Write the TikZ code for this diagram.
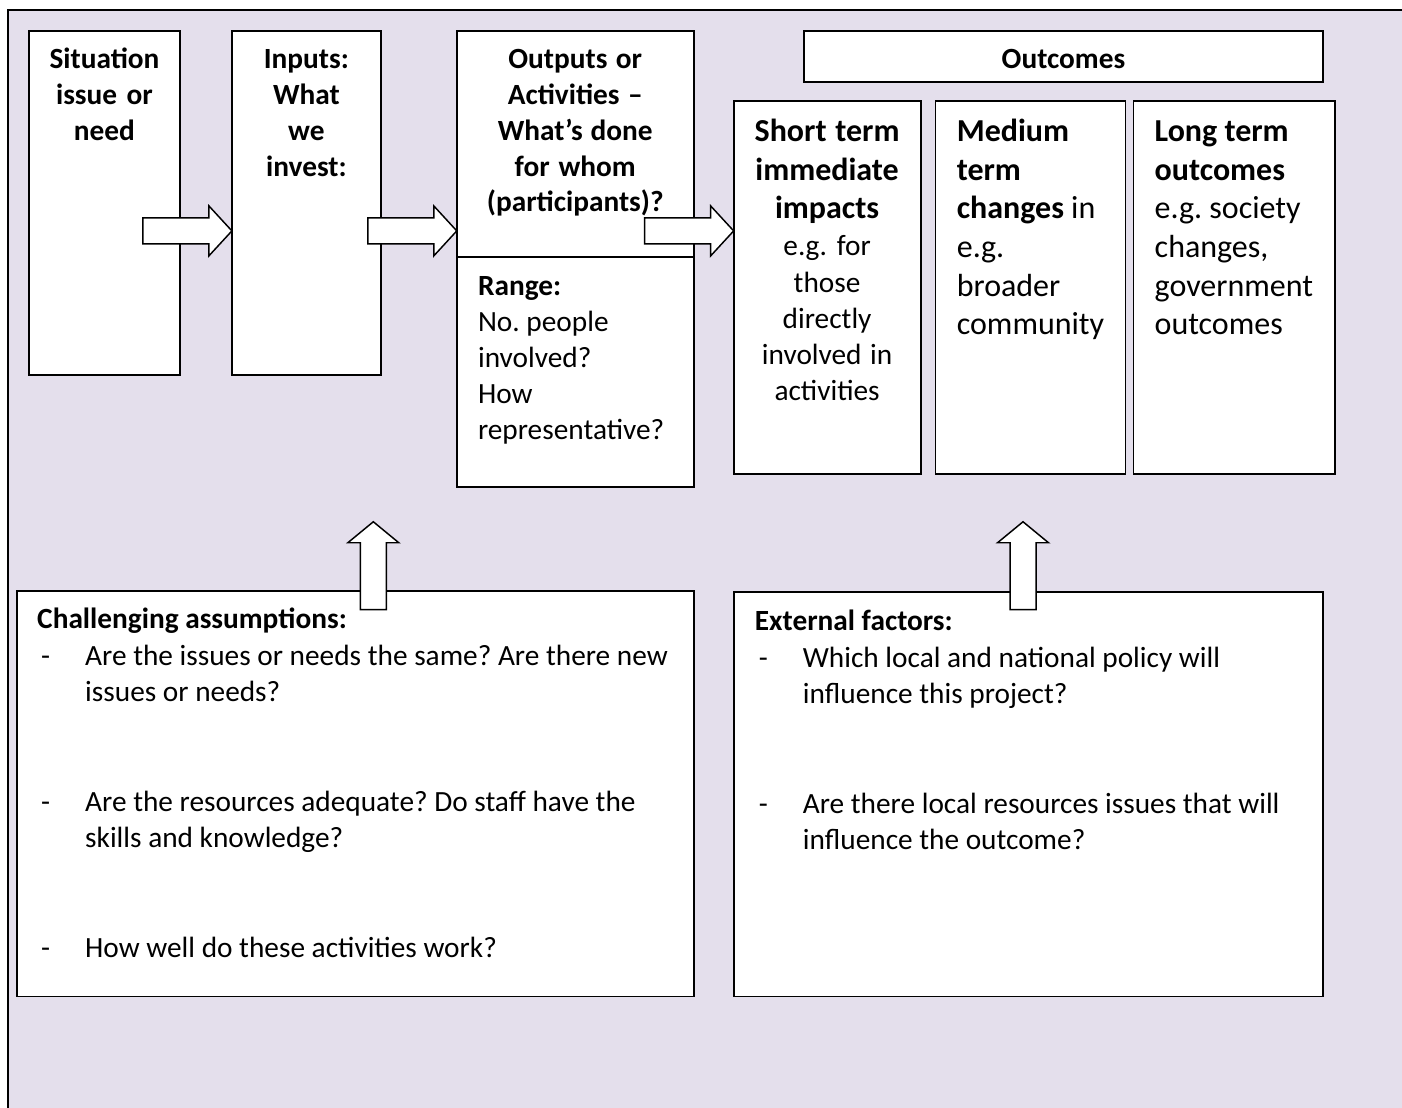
\documentclass[tikz,border=0pt]{standalone}
\usepackage{fontspec}
\setmainfont{Carlito}
\usetikzlibrary{fit}
\definecolor{lav}{HTML}{E4DFEC}
\frenchspacing
\newcommand\ns{\spaceskip=0pt\xspaceskip=0pt\relax}
\newcommand\itemdash{\hspace*{3pt}\makebox[33pt][l]{-}}
\newcommand\itemind{\hspace*{36pt}}
\newcommand\rarrow[3]{% name, tip x, tip y
  \draw[blockarrow] (#2-89,#3-13) -- (#2-23,#3-13) -- (#2-23,#3-25) -- (#2,#3)
    coordinate (#1) -- (#2-23,#3+25) -- (#2-23,#3+13) -- (#2-89,#3+13) -- cycle;}
\newcommand\uarrow[3]{% name, tip x, tip y
  \draw[blockarrow] (#2-13,#3+88) -- (#2-13,#3+21) -- (#2-25.5,#3+21) -- (#2,#3)
    coordinate (#1) -- (#2+25.5,#3+21) -- (#2+13,#3+21) -- (#2+13,#3+88) -- cycle;}
\begin{document}
\begin{tikzpicture}[x=0.75pt,y=-0.75pt,
  box/.style={draw=black,fill=white,line width=1.4pt,inner sep=0pt},
  blockarrow/.style={draw=black,fill=white,line width=1.1pt,line join=miter},
  headtxt/.style={font=\fontsize{22pt}{26.8pt}\selectfont\bfseries,align=center,inner sep=0pt,text width=150pt,anchor=base},
  rangetxt/.style={font=\fontsize{22pt}{27pt}\selectfont,align=left,inner sep=0pt,text width=165pt,anchor=base west},
  bigtxt/.style={font=\fontsize{24pt}{28.9pt}\selectfont,align=left,inner sep=0pt,text width=140pt,anchor=base west},
  bottxt/.style={font=\fontsize{22pt}{27.4pt}\selectfont,align=left,inner sep=0pt,text width=560pt,anchor=base west}]
\useasboundingbox (0,0) rectangle (1402.6667,1108);
\fill[white] (-20,-20) rectangle (1620,1320);
\draw[fill=lav,line width=1.5pt] (8,10) rectangle (1600,1300);

% top boxes
\node[box,fit={(29,31) (180,375)}] (sit) {};
\node[box,fit={(232,31) (381,375)}] (inp) {};
\node[box,fit={(457,31) (694,257)}] (outp) {};
\node[box,fit={(457,257) (694,487)}] (range) {};
\node[box,fit={(804,31) (1324,82)}] (outc) {};
\node[box,fit={(734,101) (921,474)}] (short) {};
\node[box,fit={(936,101) (1126,474)}] (medium) {};
\node[box,fit={(1134,101) (1336,474)}] (long) {};

% bottom boxes
\node[box,fit={(17,591) (694,997)}] (assume) {};
\node[box,fit={(734,592) (1324,997)}] (extern) {};

% texts
\node[headtxt] (sitT) at (104.5,69) {\ns Situation\\issue or\\need};
\node[headtxt] (inpT) at (306.5,69) {\ns Inputs:\\What\\we\\invest:};
\node[headtxt] (outpT) at (575.5,69) {\ns Outputs or\\Activities –\\What’s done\\for whom\\(participants)?};
\node[rangetxt] (rangeT) at (478,296) {\ns\textbf{Range:}\\No. people\\involved?\\How\\representative?};
\node[headtxt,text width=300pt] (outcT) at (1064,69) {Outcomes};
\node[headtxt,font=\fontsize{24pt}{28.8pt}\selectfont\bfseries] (shortH) at (827.5,142) {\ns Short term\\immediate\\impacts};
\node[headtxt,font=\fontsize{22pt}{27.2pt}\selectfont] (shortT) at (827.5,256) {\ns e.g. for\\those\\directly\\involved in\\activities};
\node[bigtxt] (mediumT) at (957,142) {\ns\textbf{Medium}\\\textbf{term}\\\textbf{changes} in\\e.g.\\broader\\community};
\node[bigtxt] (longT) at (1155,142) {\ns\textbf{Long term}\\\textbf{outcomes}\\e.g. society\\changes,\\government\\outcomes};

\node[bottxt] (assumeT) at (37,629) {\ns\textbf{Challenging assumptions:}\\
\itemdash Are the issues or needs the same? Are there new\\
\itemind issues or needs?\\
\mbox{}\\
\mbox{}\\
\itemdash Are the resources adequate? Do staff have the\\
\itemind skills and knowledge?\\
\mbox{}\\
\mbox{}\\
\itemdash How well do these activities work?};
\node[bottxt,text width=440pt] (externT) at (755,631) {\ns\textbf{External factors:}\\
\itemdash Which local and national policy will\\
\itemind influence this project?\\
\mbox{}\\
\mbox{}\\
\itemdash Are there local resources issues that will\\
\itemind influence the outcome?};

% block arrows
\rarrow{a1}{232}{231}
\rarrow{a2}{457}{231}
\rarrow{a3}{734}{231}
\uarrow{u1}{373.5}{522}
\uarrow{u2}{1023.5}{522}
\end{tikzpicture}
\end{document}
